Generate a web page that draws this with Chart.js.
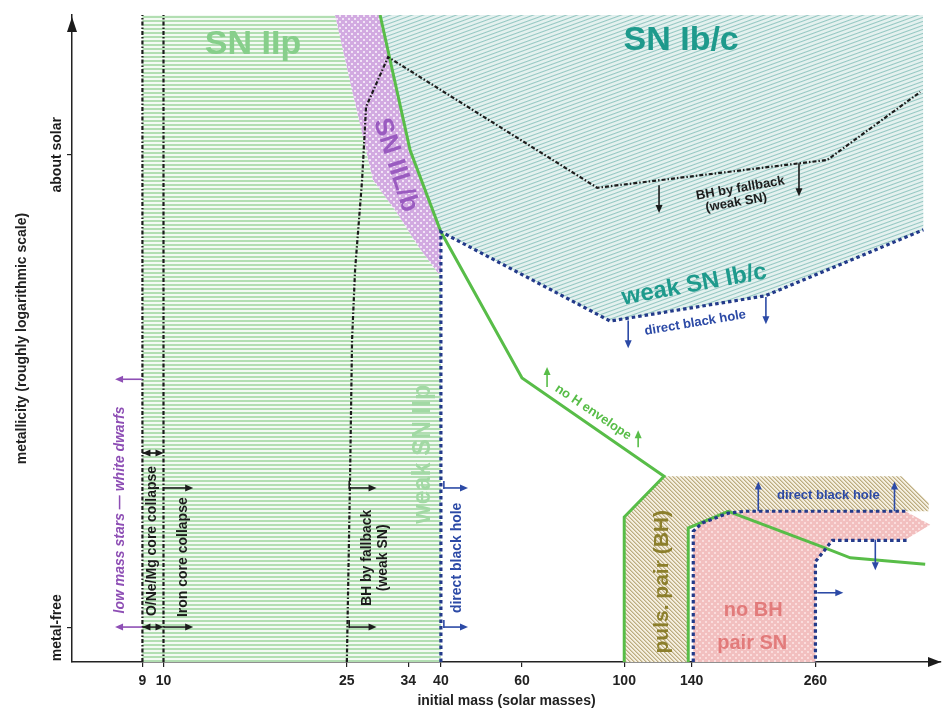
<!DOCTYPE html>
<html><head><meta charset="utf-8">
<script src="https://cdn.jsdelivr.net/npm/chart.js@4.4.1/dist/chart.umd.min.js"></script>
<style>html,body{margin:0;padding:0;background:#fff;}#wrap{width:943px;height:710px;}</style>
</head><body><div id="wrap"><canvas id="c" width="943" height="710"></canvas></div>
<script>
// ---------------- data (initial mass in solar masses, metallicity in arbitrary 0-100 axis units) -------------
const massTicks = [9, 10, 25, 34, 40, 60, 100, 140, 260];
const metallicityTicks = [5.3, 78.4];
const metallicityTickLabels = ['metal-free', 'about solar'];

const regionSNIIp   = [[9,0],[9,100],[23.57,100],[25.66,88.4],[28.5,74.5],[32.14,69.4],[35.7,64.3],[39.46,60.1],[40,60.1],[40,0]];
const regionSNIILb  = [[23.57,100],[29.52,100],[34.3,79.1],[40,66.5],[40,60.1],[39.46,60.1],[35.7,64.3],[32.14,69.4],[28.5,74.5],[25.66,88.4]];
const regionSNIbc   = [[29.52,100],[445,100],[445.8,66.8],[202.4,56.6],[93.2,52.7],[40,66.5],[34.3,79.1]];
const regionPulsPair= [[100,0],[100,22.4],[122,28.7],[400,28.7],[458,24.6],[458,23.3],[168.2,23.3],[137.7,20.7],[137.7,0]];
const regionPairSN  = [[141.2,0],[141.2,20.2],[147.7,21.5],[168.2,23.0],[183.1,23.3],[407.5,23.3],[461.6,21.2],[407.5,18.9],[283,18.8],[260,15.5],[260,0]];

const lineNoHEnvelope = [[29.52,100],[34.3,79.1],[40,66.5],[60,43.9],[122,28.7],[100,22.4],[100,0]];
const linePairEdge    = [[137.7,0],[137.7,20.7],[168.2,23.3],[269,17.8],[309.5,16.1],[450,15.1]];
const lineMass9       = [[9,0],[9,100]];
const lineMass10      = [[10,0],[10,100]];
const lineFallback    = [[25,0],[25.4,28.1],[25.66,49.8],[26.05,60.6],[26.98,74.5],[27.52,85.8],[30.72,93.5],[87.36,73.3],[275.9,77.6],[439,88.1]];
const lineDirectBH    = [[40,0],[40,66.5],[93.2,52.7],[202.4,56.6],[445.8,66.8]];
const linePairUpper   = [[141.2,0],[141.2,20.2],[147.7,21.5],[168.2,23.0],[183.1,23.3],[407.5,23.3]];
const linePairLower   = [[410,18.8],[283,18.8],[260,15.5],[260,0]];

// ---------------- styles ----------------
const FONT = '"Liberation Sans", Arial, Helvetica, sans-serif';
const C = {black:'#1c1c1c', blue:'#2c4aa6', dotBlue:'#233a8a', green:'#58bd48', purple:'#8e4fb5',
  teal:'#1e9a8c', olive:'#8c7f2c', pink:'#e27b7b', lgreen:'#87cf8b', lgreen2:'#a2d9a4', lpurple:'#9a5bc0'};

const arrows = [
  {a:[9,43.7], b:[7.85,43.7], c:C.purple},
  {a:[9,5.4], b:[7.85,5.4], c:C.purple},
  {a:[9,32.3], b:[10,32.3], c:C.black, both:true},
  {a:[9,5.4], b:[10,5.4], c:C.black, both:true},
  {a:[10,26.9], b:[11.6,26.9], c:C.black},
  {a:[10,5.4], b:[11.6,5.4], c:C.black},
  {a:[25.3,26.9], b:[29,26.9], c:C.black, bar:true},
  {a:[25.3,5.4], b:[29,5.4], c:C.black, bar:true},
  {a:[40.6,26.9], b:[45.8,26.9], c:C.blue, bar:true},
  {a:[40.6,5.4], b:[45.8,5.4], c:C.blue, bar:true},
  {a:[119,73.7], b:[119,69.4], c:C.black},
  {a:[239.5,77.1], b:[239.5,72.0], c:C.black},
  {a:[102,52.8], b:[102,48.5], c:C.blue},
  {a:[203,56.4], b:[203,52.2], c:C.blue},
  {a:[68,42.5], b:[68,45.6], c:C.green},
  {a:[107.2,33.2], b:[107.2,35.8], c:C.green},
  {a:[195.4,23.3], b:[195.4,27.9], c:C.blue},
  {a:[386,23.3], b:[386,27.9], c:C.blue},
  {a:[350.7,18.9], b:[350.7,14.2], c:C.blue},
  {a:[262.4,10.7], b:[298.9,10.7], c:C.blue}
];

const texts = [
  {t:'SN IIp', m:15.64, v:95.4, r:0, s:34, c:C.lgreen},
  {t:'SN Ib/c', m:132.9, v:96.0, r:0, s:34, c:C.teal},
  {t:'SN IIL/b', m:31.9, v:76.8, r:72, s:26, c:C.lpurple},
  {t:'BH by fallback', m:178.6, v:73.2, r:-10, s:13, c:C.black},
  {t:'(weak SN)', m:175.0, v:71.0, r:-10, s:13, c:C.black},
  {t:'weak SN Ib/c', m:141.9, v:58.3, r:-10.5, s:24, c:C.teal},
  {t:'direct black hole', m:142.6, v:52.4, r:-9.5, s:13, c:C.blue},
  {t:'no H envelope', m:85.6, v:38.6, r:34, s:13, c:C.green},
  {t:'low mass stars \u2014 white dwarfs', m:8.04, v:23.5, r:-90, s:14, c:C.purple, it:true},
  {t:'O/Ne/Mg core collapse', m:9.44, v:18.7, r:-90, s:14, c:C.black},
  {t:'Iron core collapse', m:11.02, v:16.2, r:-90, s:14, c:C.black},
  {t:'BH by fallback', m:27.66, v:16.1, r:-90, s:14, c:C.black},
  {t:'(weak SN)', m:29.96, v:16.1, r:-90, s:14, c:C.black},
  {t:'direct black hole', m:43.4, v:16.1, r:-90, s:14, c:C.blue},
  {t:'weak SN IIp', m:36.6, v:32.1, r:-90, s:25, c:C.lgreen2},
  {t:'puls. pair (BH)', m:120.9, v:12.4, r:-90, s:21, c:C.olive},
  {t:'no BH', m:190.6, v:8.0, r:0, s:20, c:C.pink},
  {t:'pair SN', m:189.6, v:2.9, r:0, s:20, c:C.pink},
  {t:'direct black hole', m:277.3, v:25.7, r:0, s:13, c:C.blue}
];

// ---------------- helpers ----------------
function hex(h){h=h.replace('#','');return [parseInt(h.substr(0,2),16),parseInt(h.substr(2,2),16),parseInt(h.substr(4,2),16)];}
function mix(a,b,t){return [a[0]+(b[0]-a[0])*t,a[1]+(b[1]-a[1])*t,a[2]+(b[2]-a[2])*t];}
function makePattern(ctx,w,h,fn){
  const cv=document.createElement('canvas');cv.width=w;cv.height=h;
  const g=cv.getContext('2d');const img=g.createImageData(w,h);
  for(let y=0;y<h;y++)for(let x=0;x<w;x++){const col=fn(x,y);const i=(y*w+x)*4;
    img.data[i]=col[0];img.data[i+1]=col[1];img.data[i+2]=col[2];img.data[i+3]=255;}
  g.putImageData(img,0,0);return ctx.createPattern(cv,'repeat');
}
let patterns=null;
function getPatterns(ctx){
  if(patterns)return patterns;
  const gBg=hex('#f3faf3'),gLn=hex('#b2deb2');
  const tBg=hex('#e4f1ef'),tLn=hex('#94c7c2');
  const bBg=hex('#f5efe0'),bLn=hex('#bcac80');
  const pBg=hex('#d2aae1'),pDot=hex('#f1e4f6');
  const kBg=hex('#f2bfbf'),kDot=hex('#fadcdc');
  const dot=(x,y)=>((x%6<2&&y%6<2)||((x+3)%6<2&&(y+3)%6<2));
  patterns={
    green:makePattern(ctx,4,4,(x,y)=>y<2?gLn:gBg),
    teal:makePattern(ctx,11,4,(x,y)=>{const d=(((y+0.5+(x+0.5)*4/11)%4)+4)%4;const w=Math.max(0,1-Math.abs(d-1)/1.1);return mix(tBg,tLn,w);}),
    brown:makePattern(ctx,4,4,(x,y)=>{const d=(((x-y)%4)+4)%4;const w=d===0?1:(d===1?0.5:0);return mix(bBg,bLn,w);}),
    purple:makePattern(ctx,6,6,(x,y)=>dot(x,y)?pDot:pBg),
    pink:makePattern(ctx,6,6,(x,y)=>dot(x,y)?kDot:kBg)
  };
  return patterns;
}
const toXY=arr=>arr.map(p=>({x:p[0],y:p[1]}));
function lineDS(arr,color,width,dash){
  return {data:toXY(arr),showLine:true,borderColor:color,borderWidth:width,borderDash:dash||[],pointRadius:0,tension:0,fill:false,borderCapStyle:'butt',borderJoinStyle:'miter'};
}

const regionPlugin={
  id:'regions',
  beforeDatasetsDraw(chart){
    const {ctx,chartArea:a,scales:{x,y}}=chart;const P=getPatterns(ctx);
    const regs=[[regionSNIIp,P.green],[regionSNIbc,P.teal],[regionSNIILb,P.purple],[regionPulsPair,P.brown],[regionPairSN,P.pink]];
    ctx.save();ctx.beginPath();ctx.rect(a.left,a.top,a.right-a.left,a.bottom-a.top);ctx.clip();
    regs.forEach(([pts,pat])=>{
      ctx.beginPath();
      pts.forEach((p,i)=>{const px=x.getPixelForValue(p[0]),py=y.getPixelForValue(p[1]);i?ctx.lineTo(px,py):ctx.moveTo(px,py);});
      ctx.closePath();ctx.fillStyle=pat;ctx.fill();
    });
    ctx.restore();
  },
  afterDatasetsDraw(chart){
    const {ctx,scales:{x,y}}=chart;
    ctx.save();
    const head=(tx,ty,ang,col)=>{ctx.save();ctx.translate(tx,ty);ctx.rotate(ang);ctx.beginPath();ctx.moveTo(0,0);ctx.lineTo(-8,-3.5);ctx.lineTo(-8,3.5);ctx.closePath();ctx.fillStyle=col;ctx.fill();ctx.restore();};
    arrows.forEach(ar=>{
      const x1=x.getPixelForValue(ar.a[0]),y1=y.getPixelForValue(ar.a[1]);
      const x2=x.getPixelForValue(ar.b[0]),y2=y.getPixelForValue(ar.b[1]);
      const ang=Math.atan2(y2-y1,x2-x1);
      ctx.strokeStyle=ar.c;ctx.lineWidth=1.6;ctx.beginPath();
      ctx.moveTo(x1,y1);ctx.lineTo(x2-6*Math.cos(ang),y2-6*Math.sin(ang));ctx.stroke();
      if(ar.bar){ctx.beginPath();ctx.moveTo(x1,y1-7);ctx.lineTo(x1,y1+1);ctx.stroke();}
      head(x2,y2,ang,ar.c);
      if(ar.both)head(x1,y1,ang+Math.PI,ar.c);
    });
    texts.forEach(tx=>{
      const px=x.getPixelForValue(tx.m),py=y.getPixelForValue(tx.v);
      ctx.save();ctx.translate(px,py);ctx.rotate(tx.r*Math.PI/180);
      ctx.font=(tx.it?'italic ':'')+'bold '+tx.s+'px '+FONT;
      ctx.fillStyle=tx.c;ctx.textAlign='center';ctx.textBaseline='middle';
      ctx.fillText(tx.t,0,0);ctx.restore();
    });
    ctx.restore();
  },
  afterDraw(chart){
    const {ctx,chartArea:a,scales:{y}}=chart;
    ctx.save();ctx.fillStyle=C.black;
    ctx.beginPath();ctx.moveTo(a.right,a.bottom);ctx.lineTo(a.right-13,a.bottom-5);ctx.lineTo(a.right-13,a.bottom+5);ctx.closePath();ctx.fill();
    ctx.beginPath();ctx.moveTo(a.left,a.top+2);ctx.lineTo(a.left-5,a.top+17);ctx.lineTo(a.left+5,a.top+17);ctx.closePath();ctx.fill();
    ctx.font='bold 14px '+FONT;ctx.textAlign='center';ctx.textBaseline='middle';
    metallicityTicks.forEach((v,i)=>{
      const py=y.getPixelForValue(v);ctx.save();ctx.translate(57,py);ctx.rotate(-Math.PI/2);
      ctx.fillText(metallicityTickLabels[i],0,0);ctx.restore();
    });
    ctx.restore();
  }
};

const datasets=[
  lineDS(lineMass9,C.black,2.2,[4,2,1.5,2]),
  lineDS(lineMass10,C.black,2.2,[4,2,1.5,2]),
  lineDS(lineFallback,C.black,2.2,[4,2,1.5,2]),
  lineDS(lineDirectBH,C.dotBlue,3.2,[3.5,3]),
  lineDS(linePairUpper,C.dotBlue,3.2,[3.5,3]),
  lineDS(linePairLower,C.dotBlue,3.2,[3.5,3]),
  lineDS(lineNoHEnvelope,C.green,3),
  lineDS(linePairEdge,C.green,3)
];

new Chart(document.getElementById('c').getContext('2d'),{
  type:'scatter',
  data:{datasets},
  plugins:[regionPlugin],
  options:{
    responsive:false,animation:false,events:[],
    layout:{padding:{top:15,right:2,left:0,bottom:0}},
    plugins:{legend:{display:false},tooltip:{enabled:false}},
    scales:{
      x:{type:'logarithmic',min:6.33,max:487,z:1,
        afterBuildTicks:s=>{s.ticks=massTicks.map(v=>({value:v}));},
        afterFit:s=>{s.height=48;},
        ticks:{autoSkip:false,maxRotation:0,minRotation:0,padding:6,color:'#222',font:{family:FONT,size:14,weight:'bold'},callback:v=>String(v)},
        grid:{display:true,drawOnChartArea:false,drawTicks:true,tickLength:5,color:'#222',lineWidth:1.2},
        border:{display:true,color:'#222',width:1.5},
        title:{display:true,text:'initial mass (solar masses)',color:'#222',font:{family:FONT,size:14,weight:'bold'},padding:{top:0,bottom:0}}
      },
      y:{type:'linear',min:0,max:100,z:1,
        afterBuildTicks:s=>{s.ticks=metallicityTicks.map(v=>({value:v}));},
        afterFit:s=>{s.width=72;},
        ticks:{display:false},
        grid:{display:true,drawOnChartArea:false,drawTicks:true,tickLength:5,color:'#222',lineWidth:1.2},
        border:{display:true,color:'#222',width:1.5},
        title:{display:true,text:'metallicity (roughly logarithmic scale)',color:'#222',font:{family:FONT,size:14,weight:'bold'},padding:{top:14,bottom:0}}
      }
    }
  }
});
</script></body></html>
